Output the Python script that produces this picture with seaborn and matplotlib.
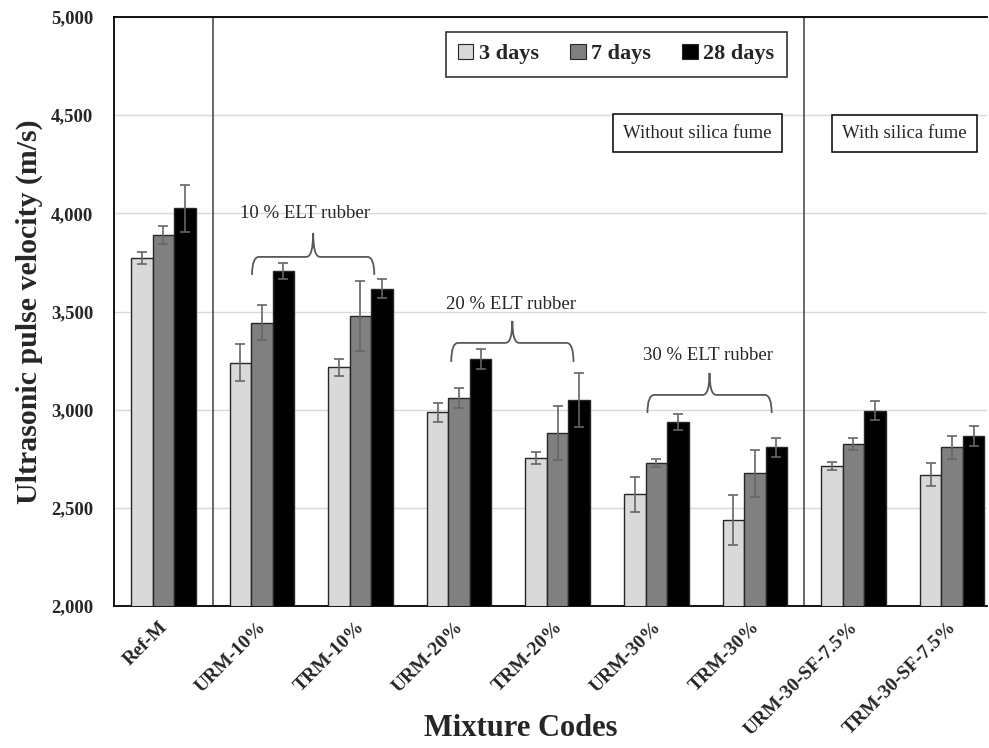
import matplotlib
matplotlib.use("Agg")
import matplotlib.pyplot as plt
import matplotlib.transforms as mtransforms
from matplotlib.path import Path
from matplotlib.patches import PathPatch, Patch
import seaborn as sns
import pandas as pd

# ---------------- data ----------------
categories = ["Ref-M", "URM-10%", "TRM-10%", "URM-20%", "TRM-20%",
              "URM-30%", "TRM-30%", "URM-30-SF-7.5%", "TRM-30-SF-7.5%"]
ages = ["3 days", "7 days", "28 days"]
upv_3d = [3772, 3239, 3216, 2987, 2754, 2569, 2437, 2711, 2669]
upv_7d = [3890, 3443, 3477, 3059, 2880, 2728, 2676, 2827, 2808]
upv_28d = [4025, 3708, 3617, 3258, 3048, 2936, 2808, 2995, 2867]
err_3d = [30, 95, 42, 48, 30, 90, 128, 20, 60]
err_7d = [48, 90, 180, 50, 137, 20, 121, 30, 60]
err_28d = [120, 40, 48, 49, 138, 40, 48, 50, 50]
y_ticks = [2000, 2500, 3000, 3500, 4000, 4500, 5000]
brace_labels = ["10 % ELT rubber", "20 % ELT rubber", "30 % ELT rubber"]
box_labels = ["Without silica fume", "With silica fume"]

values = [upv_3d, upv_7d, upv_28d]
errors = [err_3d, err_7d, err_28d]
rows = []
for a, vals in zip(ages, values):
    for c, v in zip(categories, vals):
        rows.append({"Mixture": c, "Age": a, "UPV": v})
df = pd.DataFrame(rows)

# ---------------- style ----------------
sns.set_theme(style="white")
plt.rcParams["font.family"] = ["Liberation Serif", "DejaVu Serif"]
plt.rcParams["font.weight"] = "bold"

colors = ["#d9d9d9", "#808080", "#000000"]
fig = plt.figure(figsize=(9.89, 7.48), dpi=100)
ax = fig.add_axes([114 / 989, 1 - 606 / 748, 873 / 989, 589 / 748])

sns.barplot(data=df, x="Mixture", y="UPV", hue="Age", hue_order=ages,
            order=categories, palette=colors, width=0.655, gap=0,
            errorbar=None, edgecolor="#262626", linewidth=1.0,
            legend=False, ax=ax, zorder=3)

# error bars from bar geometry
for cont, errs in zip(ax.containers, errors):
    for bar, e in zip(cont, errs):
        xc = bar.get_x() + bar.get_width() / 2
        ax.errorbar(xc, bar.get_height(), yerr=e, fmt="none",
                    ecolor="#666666", elinewidth=1.2, capsize=3.5,
                    capthick=1.2, zorder=4)

ax.set_ylim(2000, 5000)
ax.set_xlim(-0.5, 8.354)
ax.set_yticks(y_ticks)
ax.set_yticklabels([f"{t:,}" for t in y_ticks], fontsize=13.5, fontweight="bold")
ax.yaxis.grid(True, color="#d9d9d9", linewidth=1.0, zorder=0)
ax.xaxis.grid(False)
ax.set_axisbelow(True)
ax.tick_params(axis="y", direction="in", length=5, width=1, color="black", pad=15)
ax.tick_params(axis="x", length=0, pad=9)
offset = mtransforms.ScaledTranslation(-4 / 100, 0, fig.dpi_scale_trans)
for lbl in ax.get_xticklabels():
    lbl.set_rotation(45)
    lbl.set_ha("right")
    lbl.set_va("top")
    lbl.set_rotation_mode("anchor")
    lbl.set_fontsize(14)
    lbl.set_fontweight("bold")
    lbl.set_transform(lbl.get_transform() + offset)

for s in ["left", "bottom", "top"]:
    ax.spines[s].set_visible(True)
    ax.spines[s].set_color("black")
    ax.spines[s].set_linewidth(1.3)
ax.spines["right"].set_visible(False)

ax.set_xlabel("")
ax.set_ylabel("Ultrasonic pulse velocity (m/s)", fontsize=21.5, fontweight="bold", labelpad=6)
fig.text(521 / 989, 1 - 728 / 748, "Mixture Codes", fontsize=22, fontweight="bold",
         ha="center", va="center")

# separators
for xs in (0.5, 6.5):
    ax.axvline(xs, color="#404040", linewidth=1.1, zorder=2)

# legend
handles = [Patch(facecolor=c, edgecolor="#262626", linewidth=0.8) for c in colors]
leg = ax.legend(handles, ages, ncol=3, loc="center",
                bbox_to_anchor=((616 - 114) / 873, 1 - (54 - 17) / 589),
                frameon=True, fancybox=False, edgecolor="black",
                prop={"family": "Liberation Serif", "weight": "bold", "size": 16},
                handlelength=0.7, handleheight=0.7, handletextpad=0.25,
                columnspacing=1.4, borderpad=0.55, borderaxespad=0)
leg.get_frame().set_linewidth(1.2)

# annotation boxes
box_pos = [(5.42, 4409), (7.52, 4407)]
for (bx, by), t in zip(box_pos, box_labels):
    ax.text(bx, by, t, fontsize=13.5, fontweight="normal", ha="center", va="center",
            bbox=dict(boxstyle="square,pad=0.55", facecolor="white",
                      edgecolor="black", linewidth=1.1), zorder=6)

# braces: (left, right, center, y_tip, y_mid, y_top, text_x, y_text)
brace_specs = [
    (0.90, 2.14, 1.52, 3686, 3778, 3900, 1.44, 3997),
    (2.92, 4.16, 3.54, 3243, 3340, 3452, 3.53, 3538),
    (4.91, 6.17, 5.54, 2983, 3075, 3187, 5.52, 3278),
]
for (xl, xr, xc, yt, ym, ytop, xtx, ytx), lab in zip(brace_specs, brace_labels):
    dx = 0.07
    dxc = 0.07
    verts = [
        (xl, yt), (xl, ym), (xl + dx, ym),
        (xc - dxc, ym),
        (xc, ym), (xc, ytop),
        (xc, ym), (xc + dxc, ym),
        (xr - dx, ym),
        (xr, ym), (xr, yt),
    ]
    codes = [Path.MOVETO, Path.CURVE3, Path.CURVE3,
             Path.LINETO,
             Path.CURVE3, Path.CURVE3,
             Path.CURVE3, Path.CURVE3,
             Path.LINETO,
             Path.CURVE3, Path.CURVE3]
    ax.add_patch(PathPatch(Path(verts, codes), facecolor="none",
                           edgecolor="#595959", linewidth=1.3, zorder=5))
    ax.text(xtx, ytx, lab, fontsize=13.5, fontweight="normal",
            ha="center", va="center", zorder=6)

fig.savefig("out.png", dpi=100)
